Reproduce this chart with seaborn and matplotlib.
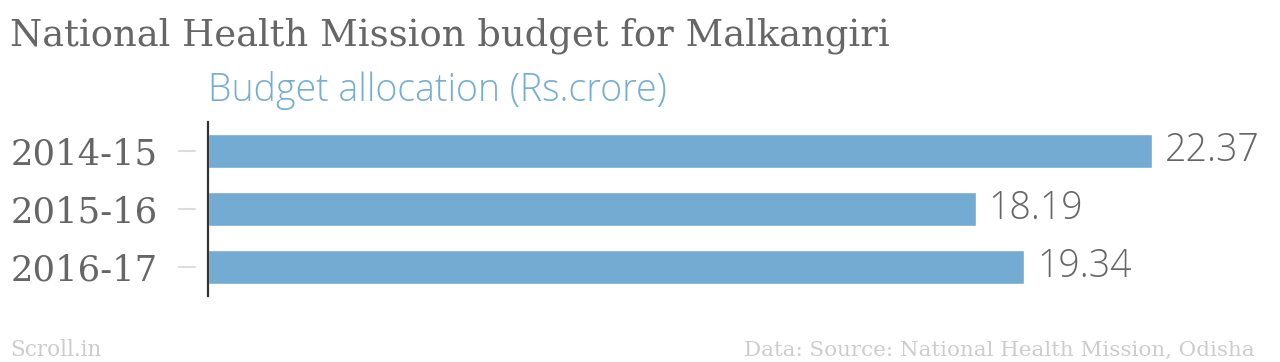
import matplotlib
matplotlib.use("Agg")
import matplotlib.pyplot as plt
import matplotlib.transforms as mtransforms
import pandas as pd
import seaborn as sns

# data
years = ["2014-15", "2015-16", "2016-17"]
budget = [22.37, 18.19, 19.34]

title = "National Health Mission budget for Malkangiri"
subtitle = "Budget allocation (Rs.crore)"
credit = "Scroll.in"
source = "Data: Source: National Health Mission, Odisha"

BAR = "#74abd2"
GREY = "#666666"

sns.set_theme(style="white")
plt.rcParams["font.family"] = ["DejaVu Serif", "DejaVu Sans"]

df = pd.DataFrame({"year": years, "budget": budget})

W, H = 1280, 362
fig = plt.figure(figsize=(W / 100, H / 100), dpi=100)
ax = fig.add_axes([208 / W, 1 - 296 / H, 1055 / W, 174 / H])

sns.barplot(data=df, x="budget", y="year", color=BAR, saturation=1,
            width=0.6, ax=ax)
ax.set_xlim(0, 25)
ax.set_ylim(2.5, -0.5)

for s in ["top", "right", "bottom"]:
    ax.spines[s].set_visible(False)
ax.spines["left"].set_color("#333333")
ax.spines["left"].set_linewidth(1.6)
ax.set_xticks([])
ax.set_xlabel("")
ax.set_ylabel("")
ax.tick_params(axis="y", length=0, pad=36, labelsize=25.5, labelcolor=GREY)
for lab in ax.get_yticklabels():
    lab.set_family("DejaVu Serif")

# detached light tick marks left of the axis
trans = mtransforms.blended_transform_factory(ax.transAxes, ax.transData)
for i in range(len(years)):
    ax.plot([-29 / 1055, -13 / 1055], [i, i], color="#dddddd", lw=1.5,
            transform=trans, clip_on=False)

for i, v in enumerate(budget):
    ax.text(v + 0.3, i, f"{v:.2f}", va="center", ha="left", fontsize=27,
            color=GREY, family="Open Sans", fontweight="light")

fig.text(10 / W, 1 - 46 / H, title, fontsize=26.6, color=GREY,
         family="DejaVu Serif", va="baseline")
fig.text(208 / W, 1 - 101 / H, subtitle, fontsize=27, color="#74aed3",
         family="Open Sans", fontweight="light", va="baseline")
fig.text(10 / W, 1 - 356 / H, credit, fontsize=15.5, color="#cccccc",
         family="DejaVu Serif", va="baseline")
fig.text(1255 / W, 1 - 356 / H, source, fontsize=15.4, color="#cccccc",
         family="DejaVu Serif", va="baseline", ha="right")

fig.savefig("out.png", dpi=100, facecolor="white")
